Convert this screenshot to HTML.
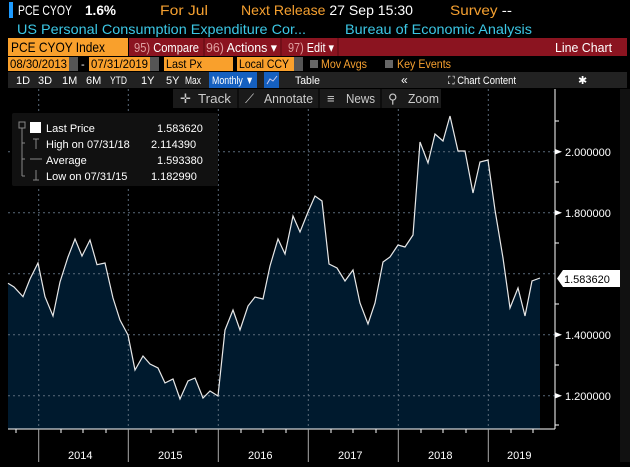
<!DOCTYPE html>
<html><head><meta charset="utf-8"><style>
body{margin:0;background:#000;width:630px;height:462px;overflow:hidden;font-family:"Liberation Sans",sans-serif}
svg text{font-family:"Liberation Sans",sans-serif}
</style></head><body>
<svg width="630" height="462" viewBox="0 0 630 462" xmlns="http://www.w3.org/2000/svg">
<rect width="630" height="462" fill="#000"/>
<!-- row1 -->
<rect x="9" y="2" width="4" height="16" fill="#1e9bff"/>
<text x="18" y="15" font-size="14" fill="#fff" textLength="54" lengthAdjust="spacingAndGlyphs">PCE CYOY</text>
<text x="85" y="15" font-size="14" fill="#fff" font-weight="bold" textLength="31" lengthAdjust="spacingAndGlyphs">1.6%</text>
<text x="160" y="15" font-size="14" fill="#f5a030" textLength="48" lengthAdjust="spacingAndGlyphs">For Jul</text>
<text x="241" y="15" font-size="14" fill="#f5a030" textLength="172" lengthAdjust="spacingAndGlyphs">Next Release <tspan fill="#fff">27 Sep 15:30</tspan></text>
<text x="450" y="15" font-size="14" fill="#f5a030" textLength="62" lengthAdjust="spacingAndGlyphs">Survey <tspan fill="#fff">--</tspan></text>
<!-- row2 -->
<text x="17" y="34" font-size="14" fill="#3cc8e6" textLength="289" lengthAdjust="spacingAndGlyphs">US Personal Consumption Expenditure Cor...</text>
<text x="345" y="34" font-size="14" fill="#3cc8e6" textLength="187" lengthAdjust="spacingAndGlyphs">Bureau of Economic Analysis</text>
<!-- row3 -->
<rect x="8" y="38" width="120" height="18" fill="#f9a02c"/>
<text x="11" y="52" font-size="14" fill="#000" textLength="94" lengthAdjust="spacingAndGlyphs">PCE CYOY Index</text>
<rect x="129" y="38" width="498" height="18" fill="#8b1420"/>
<line x1="204" y1="38" x2="204" y2="56" stroke="#5a0a10"/><line x1="281" y1="38" x2="281" y2="56" stroke="#5a0a10"/><line x1="338" y1="38" x2="338" y2="56" stroke="#5a0a10"/>
<text x="134" y="52" font-size="13" fill="#fff" textLength="65" lengthAdjust="spacingAndGlyphs"><tspan fill="#e0a0a0">95)</tspan> Compare</text>
<text x="206" y="52" font-size="13" fill="#fff" textLength="71" lengthAdjust="spacingAndGlyphs"><tspan fill="#e0a0a0">96)</tspan> Actions ▾</text>
<text x="288" y="52" font-size="13" fill="#fff" textLength="46" lengthAdjust="spacingAndGlyphs"><tspan fill="#e0a0a0">97)</tspan> Edit ▾</text>
<text x="555" y="52" font-size="13" fill="#fff" textLength="57" lengthAdjust="spacingAndGlyphs">Line Chart</text>
<!-- row4 -->
<rect x="8" y="57" width="61" height="14" fill="#f9a02c"/><rect x="69" y="57" width="9" height="14" fill="#555"/>
<text x="10" y="68" font-size="12" fill="#000" textLength="57" lengthAdjust="spacingAndGlyphs">08/30/2013</text>
<text x="81" y="68" font-size="11" fill="#fff">-</text>
<rect x="89" y="57" width="61" height="14" fill="#f9a02c"/><rect x="150" y="57" width="9" height="14" fill="#555"/>
<text x="91" y="68" font-size="12" fill="#000" textLength="57" lengthAdjust="spacingAndGlyphs">07/31/2019</text>
<rect x="164" y="57" width="69" height="14" fill="#f9a02c"/><text x="166" y="68" font-size="12" fill="#000" textLength="36" lengthAdjust="spacingAndGlyphs">Last Px</text>
<rect x="237" y="57" width="57" height="14" fill="#f9a02c"/><rect x="294" y="57" width="9" height="14" fill="#555"/>
<text x="239" y="68" font-size="12" fill="#000" textLength="50" lengthAdjust="spacingAndGlyphs">Local CCY</text>
<rect x="310" y="60" width="8" height="8" fill="#666"/><text x="321" y="68" font-size="12" fill="#f5a030" textLength="46" lengthAdjust="spacingAndGlyphs">Mov Avgs</text>
<rect x="385" y="60" width="8" height="8" fill="#666"/><text x="397" y="68" font-size="12" fill="#f5a030" textLength="54" lengthAdjust="spacingAndGlyphs">Key Events</text>
<!-- row5 -->
<rect x="8" y="72" width="619" height="16" fill="#222"/>
<g font-size="11" fill="#fff">
<text x="16" y="84">1D</text><text x="38" y="84">3D</text><text x="62" y="84">1M</text><text x="86" y="84">6M</text><text x="110" y="84" textLength="17" lengthAdjust="spacingAndGlyphs">YTD</text><text x="141" y="84">1Y</text><text x="166" y="84">5Y</text><text x="185" y="84" textLength="16" lengthAdjust="spacingAndGlyphs">Max</text>
</g>
<rect x="209" y="72" width="48" height="16" fill="#1560c0"/><text x="212" y="84" font-size="11" fill="#fff" textLength="42" lengthAdjust="spacingAndGlyphs">Monthly ▼</text>
<rect x="264" y="72" width="15" height="16" fill="#1560c0"/>
<polyline points="267,84 270,79 273,81 277,76" stroke="#cce" fill="none"/>
<text x="295" y="84" font-size="11" fill="#fff" textLength="25" lengthAdjust="spacingAndGlyphs">Table</text>
<text x="401" y="84" font-size="12" fill="#fff">«</text>
<text x="448" y="84" font-size="11" fill="#fff" textLength="68" lengthAdjust="spacingAndGlyphs">⛶ Chart Content</text>
<text x="578" y="84" font-size="11" fill="#fff">✱</text>
<!-- far right strip -->
<rect x="620" y="89" width="10" height="373" fill="#111"/>
<polygon fill="#001a2e" points="8,429 8,283.3 14,287 23,296.7 30,279 38,263 45,296.7 53,316 60,282 68,257 75,239 82,256 90,240 97,264.7 105,263 113,298 120,320 128,335 135,370 143,356 150,364 158,368 165,383 173,379 180,399 188,381 195,378 203,398 210,391 218,396 225,330 233,310 240,330 248,306 255,297 263,299 270,266 278,239 285,254 293,216 300,232 308,212 315,196 322,201 329,264 337,268 345,281 353,270 360,303 368,324 375,303 383,262 390,257 398,245 405,247 413,235 420,142 428,163 435,134 443,141 450,116 458,151 465,151 473,193 480,162 488,160 495,210 503,258 510,308 518,288 525,316 532,281 540,278 540,429"/>
<g stroke="#5a6a7a" stroke-dasharray="2,3">
<line x1="8" y1="151.7" x2="555" y2="151.7"/><line x1="8" y1="212.7" x2="555" y2="212.7"/><line x1="8" y1="273.7" x2="555" y2="273.7"/><line x1="8" y1="334.7" x2="555" y2="334.7"/><line x1="8" y1="395.7" x2="555" y2="395.7"/>
<line x1="38.7" y1="89" x2="38.7" y2="429"/><line x1="128.3" y1="89" x2="128.3" y2="429"/><line x1="218.3" y1="89" x2="218.3" y2="429"/><line x1="308.3" y1="89" x2="308.3" y2="429"/><line x1="398.3" y1="89" x2="398.3" y2="429"/><line x1="488.3" y1="89" x2="488.3" y2="429"/>
</g>
<polyline fill="none" stroke="#e8e8e8" stroke-width="1.2" points="8,283.3 14,287 23,296.7 30,279 38,263 45,296.7 53,316 60,282 68,257 75,239 82,256 90,240 97,264.7 105,263 113,298 120,320 128,335 135,370 143,356 150,364 158,368 165,383 173,379 180,399 188,381 195,378 203,398 210,391 218,396 225,330 233,310 240,330 248,306 255,297 263,299 270,266 278,239 285,254 293,216 300,232 308,212 315,196 322,201 329,264 337,268 345,281 353,270 360,303 368,324 375,303 383,262 390,257 398,245 405,247 413,235 420,142 428,163 435,134 443,141 450,116 458,151 465,151 473,193 480,162 488,160 495,210 503,258 510,308 518,288 525,316 532,281 540,278"/>
<!-- axes -->
<line x1="8" y1="429" x2="555" y2="429" stroke="#fff"/>
<line x1="555" y1="89" x2="555" y2="429" stroke="#fff"/>
<g stroke="#aaa">
<line x1="38.7" y1="429" x2="38.7" y2="462"/><line x1="128.3" y1="429" x2="128.3" y2="462"/><line x1="218.3" y1="429" x2="218.3" y2="462"/><line x1="308.3" y1="429" x2="308.3" y2="462"/><line x1="398.3" y1="429" x2="398.3" y2="462"/><line x1="488.3" y1="429" x2="488.3" y2="462"/>
</g>
<g stroke="#fff" stroke-width="1">
<line x1="16" y1="429" x2="16" y2="433"/><line x1="61" y1="429" x2="61" y2="433"/><line x1="83" y1="429" x2="83" y2="433"/><line x1="106" y1="429" x2="106" y2="433"/>
<line x1="151" y1="429" x2="151" y2="433"/><line x1="173" y1="429" x2="173" y2="433"/><line x1="196" y1="429" x2="196" y2="433"/>
<line x1="241" y1="429" x2="241" y2="433"/><line x1="263" y1="429" x2="263" y2="433"/><line x1="286" y1="429" x2="286" y2="433"/>
<line x1="331" y1="429" x2="331" y2="433"/><line x1="353" y1="429" x2="353" y2="433"/><line x1="376" y1="429" x2="376" y2="433"/>
<line x1="421" y1="429" x2="421" y2="433"/><line x1="443" y1="429" x2="443" y2="433"/><line x1="466" y1="429" x2="466" y2="433"/>
<line x1="511" y1="429" x2="511" y2="433"/><line x1="533" y1="429" x2="533" y2="433"/>
<line x1="555" y1="121" x2="559" y2="121"/><line x1="555" y1="182" x2="559" y2="182"/><line x1="555" y1="243" x2="559" y2="243"/><line x1="555" y1="304" x2="559" y2="304"/><line x1="555" y1="365" x2="559" y2="365"/><line x1="555" y1="425" x2="559" y2="425"/>
</g>
<g font-size="11" fill="#fff">
<text x="68" y="459">2014</text><text x="158" y="459">2015</text><text x="248" y="459">2016</text><text x="338" y="459">2017</text><text x="428" y="459">2018</text><text x="507" y="459">2019</text>
</g>
<g font-size="11" fill="#fff">
<polygon points="555,149 562,151.7 555,154.5" fill="#fff"/><text x="565" y="156">2.000000</text>
<polygon points="555,210 562,212.7 555,215.5" fill="#fff"/><text x="565" y="217">1.800000</text>
<polygon points="555,332 562,334.7 555,337.5" fill="#fff"/><text x="565" y="339">1.400000</text>
<polygon points="555,393 562,395.7 555,398.5" fill="#fff"/><text x="565" y="400">1.200000</text>
</g>
<polygon points="557,278.5 563,270 620,270 620,287 563,287" fill="#fff"/>
<text x="564" y="283" font-size="11" fill="#000">1.583620</text>
<!-- toolbar -->
<rect x="173" y="89" width="268" height="19" fill="#1a1a1a"/>
<g stroke="#000"><line x1="238" y1="89" x2="238" y2="108"/><line x1="319" y1="89" x2="319" y2="108"/><line x1="381" y1="89" x2="381" y2="108"/></g>
<g font-size="13" fill="#ccc">
<text x="180" y="103">✛</text><text x="198" y="103" textLength="33" lengthAdjust="spacingAndGlyphs">Track</text>
<text x="245" y="103">⟋</text><text x="264" y="103" textLength="49" lengthAdjust="spacingAndGlyphs">Annotate</text>
<text x="327" y="103">≡</text><text x="346" y="103" textLength="29" lengthAdjust="spacingAndGlyphs">News</text>
<text x="388" y="103">⚲</text><text x="408" y="103" textLength="31" lengthAdjust="spacingAndGlyphs">Zoom</text>
</g>
<!-- legend -->
<rect x="12" y="113" width="206" height="73" rx="2" fill="#111"/>
<g stroke="#888" fill="none">
<rect x="19" y="122" width="6" height="6"/><line x1="22" y1="128" x2="22" y2="176"/><line x1="22" y1="143" x2="25" y2="143"/><line x1="22" y1="159" x2="25" y2="159"/><line x1="22" y1="176" x2="25" y2="176"/>
<line x1="30" y1="159" x2="42" y2="159"/>
<line x1="36" y1="139" x2="36" y2="149"/><line x1="33" y1="139" x2="39" y2="139"/>
<line x1="36" y1="170" x2="36" y2="180"/><line x1="33" y1="180" x2="39" y2="180"/>
</g>
<rect x="30" y="122" width="11" height="11" fill="#fff"/>
<g font-size="11" fill="#fff">
<text x="46" y="132">Last Price</text><text x="157" y="132">1.583620</text>
<text x="46" y="148">High on 07/31/18</text><text x="151" y="148">2.114390</text>
<text x="46" y="164">Average</text><text x="157" y="164">1.593380</text>
<text x="46" y="180">Low on 07/31/15</text><text x="151" y="180">1.182990</text>
</g>
</svg>
</body></html>
